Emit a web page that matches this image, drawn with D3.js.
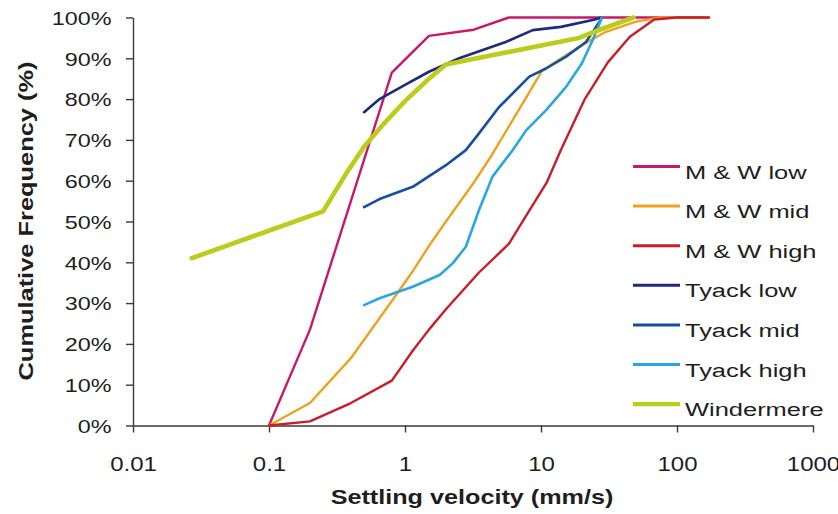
<!DOCTYPE html>
<html>
<head>
<meta charset="utf-8">
<script src="https://cdn.jsdelivr.net/npm/d3@7/dist/d3.min.js"></script>
<style>
  html, body { margin: 0; padding: 0; background: #fff; }
  svg { display: block; font-family: "Liberation Sans", Arial, sans-serif; }
</style>
</head>
<body>
<svg id="chart" width="838" height="514"></svg>
<script>
// Settling velocity (mm/s) vs cumulative frequency (%) for each sample set
const mwLow = [[0.1, 0], [0.2, 23.5], [0.8, 86.5], [1.5, 95.5], [3.2, 97], [5.8, 100], [170, 100]];
const mwMid = [[0.1, 0], [0.2, 5.5], [0.4, 16.5], [0.8, 30.5], [1.15, 38], [1.5, 44], [2, 50], [3.2, 59.5],
               [4.2, 65.5], [6.9, 77.5], [10.2, 87], [16, 91.2], [22, 94], [30, 96.5], [50, 99], [75, 100], [170, 100]];
const mwHigh = [[0.1, 0], [0.2, 1], [0.4, 5.5], [0.8, 11], [1.15, 18.5], [1.5, 23.5], [2, 28.5], [3.5, 37.5],
                [5.8, 44.5], [7.8, 51.5], [11, 59.5], [14, 67.5], [21, 80], [31, 89], [45, 95.3], [68, 99.5], [100, 100], [172, 100]];
const tyackLow = [[0.5, 76.8], [0.65, 80], [1.0, 83.5], [1.5, 86.7], [2.5, 90], [5.5, 94], [8.7, 96.9], [14, 97.7], [24, 99.4], [28, 100]];
const tyackMid = [[0.5, 53.5], [0.65, 55.5], [1.14, 58.5], [2, 63.8], [2.8, 67.5], [3.5, 71.6], [4.9, 78], [8.2, 85.5],
                  [10.9, 87.5], [15.3, 90.4], [21.4, 94], [27, 99], [28, 100]];
const tyackHigh = [[0.5, 29.5], [0.65, 31.2], [1.14, 34], [1.8, 36.9], [2.25, 39.8], [2.8, 43.8], [3.5, 52.8], [4.4, 61],
                   [6.2, 67.5], [7.8, 72.4], [10.9, 77.3], [15.3, 83], [20, 88.8], [24, 94.5], [27, 98.6], [28, 100]];
const windermere = [[0.027, 41], [0.25, 52.5], [0.37, 61.8], [0.5, 68.3], [0.7, 74], [1, 79.5], [1.5, 85], [2, 88.5],
                    [19, 95], [27, 97], [48, 100]];

const seriesNames = ["M & W low", "M & W mid", "M & W high", "Tyack low", "Tyack mid", "Tyack high", "Windermere"];
const seriesData = [mwLow, mwMid, mwHigh, tyackLow, tyackMid, tyackHigh, windermere];
const seriesColors = ["#c8186c", "#eea21e", "#c81e2a", "#1d2a7e", "#164ea0", "#2aa6e0", "#bccc1c"];
const seriesWidths = [2.4, 2.4, 2.4, 2.6, 2.6, 2.6, 4.6];

const xTicks = [0.01, 0.1, 1, 10, 100, 1000];
const xTickLabels = ["0.01", "0.1", "1", "10", "100", "1000"];
const yTicks = [0, 10, 20, 30, 40, 50, 60, 70, 80, 90, 100];

const svg = d3.select("#chart");
const plot = { left: 133, right: 813, top: 17.5, bottom: 425.5 };

const x = d3.scaleLog().domain([0.01, 1000]).range([plot.left, plot.right]);
const y = d3.scaleLinear().domain([0, 100]).range([plot.bottom, plot.top]);

const axisColor = "#3a3a3a";
const textColor = "#1e1e1e";

// y axis
const yAxis = svg.append("g")
  .attr("transform", `translate(${plot.left},0)`)
  .call(d3.axisLeft(y).tickValues(yTicks).tickFormat(d => d + "%").tickSize(7).tickSizeOuter(0));
yAxis.select(".domain").attr("stroke", axisColor).attr("stroke-width", 1.4);
yAxis.selectAll(".tick line").attr("stroke", axisColor).attr("stroke-width", 1.4);
yAxis.selectAll(".tick text")
  .attr("fill", textColor)
  .attr("font-size", 19)
  .attr("font-family", "'Liberation Sans', Arial, sans-serif")
  .attr("x", -21.5 / 1.23)
  .attr("dy", "0.36em")
  .attr("transform", "scale(1.23,1)");

// x axis
const xAxis = svg.append("g")
  .attr("transform", `translate(0,${plot.bottom})`)
  .call(d3.axisBottom(x).tickValues(xTicks).tickFormat((d, i) => xTickLabels[i]).tickSize(7).tickSizeOuter(0));
xAxis.select(".domain").attr("stroke", axisColor).attr("stroke-width", 1.4);
xAxis.selectAll(".tick line").attr("stroke", axisColor).attr("stroke-width", 1.4);
xAxis.selectAll(".tick text")
  .attr("fill", textColor)
  .attr("font-size", 20)
  .attr("font-family", "'Liberation Sans', Arial, sans-serif")
  .attr("y", 45.5)
  .attr("dy", 0)
  .attr("transform", "scale(1.2,1)");

// axis titles
svg.append("text")
  .attr("transform", "translate(472,504) scale(1.26,1)")
  .attr("text-anchor", "middle")
  .attr("font-size", 20)
  .attr("font-weight", "bold")
  .attr("fill", textColor)
  .text("Settling velocity (mm/s)");

svg.append("text")
  .attr("transform", "translate(33,221) rotate(-90) scale(1.27,1)")
  .attr("text-anchor", "middle")
  .attr("font-size", 20)
  .attr("font-weight", "bold")
  .attr("fill", textColor)
  .text("Cumulative Frequency (%)");

// series lines
const line = d3.line()
  .x(d => x(d[0]))
  .y(d => y(d[1]))
  .curve(d3.curveLinear);

svg.append("g")
  .selectAll("path")
  .data(seriesData)
  .join("path")
  .attr("d", line)
  .attr("fill", "none")
  .attr("stroke", (d, i) => seriesColors[i])
  .attr("stroke-width", (d, i) => seriesWidths[i])
  .attr("stroke-linejoin", "round")
  .attr("stroke-linecap", "round");

// legend
const legendTop = 166.5, legendStep = 39.6;
const legend = svg.append("g")
  .selectAll("g")
  .data(seriesNames)
  .join("g")
  .attr("transform", (d, i) => `translate(0,${legendTop + i * legendStep})`);

legend.append("line")
  .attr("x1", 633).attr("x2", 680)
  .attr("y1", 0).attr("y2", 0)
  .attr("stroke", (d, i) => seriesColors[i])
  .attr("stroke-width", (d, i) => i === 6 ? 4.2 : 3);

legend.append("text")
  .attr("transform", "translate(685,12) scale(1.34,1)")
  .attr("font-size", 19)
  .attr("fill", textColor)
  .text(d => d);
</script>
</body>
</html>
